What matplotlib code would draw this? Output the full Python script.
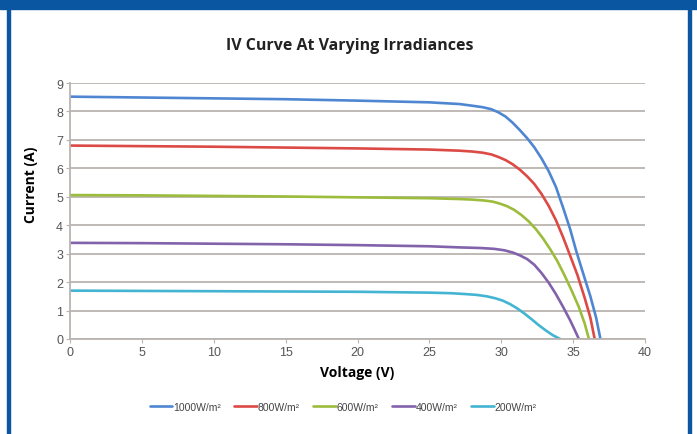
import matplotlib
matplotlib.use("Agg")
import matplotlib.pyplot as plt
from matplotlib.patches import Rectangle

# IV curves
v_1000 = [0, 5, 10, 15, 20, 25, 27.1, 28.0, 28.7, 29.3, 29.8, 30.3, 30.8, 31.3, 31.8, 32.3,
          32.8, 33.3, 33.8, 34.3, 34.8, 35.2, 35.7, 36.2, 36.6, 36.9]
i_1000 = [8.52, 8.49, 8.46, 8.43, 8.38, 8.32, 8.26, 8.20, 8.15, 8.08, 7.97, 7.82, 7.60, 7.34,
          7.06, 6.74, 6.35, 5.90, 5.35, 4.62, 3.85, 3.12, 2.30, 1.50, 0.75, 0.0]

v_800 = [0, 5, 10, 15, 20, 25, 27.1, 28.0, 28.7, 29.3, 29.8, 30.3, 30.8, 31.3, 31.8, 32.3,
         32.8, 33.3, 33.8, 34.3, 34.8, 35.3, 35.8, 36.2, 36.5]
i_800 = [6.80, 6.78, 6.76, 6.73, 6.70, 6.66, 6.62, 6.59, 6.55, 6.49, 6.40, 6.29, 6.14, 5.95,
         5.72, 5.45, 5.10, 4.68, 4.18, 3.58, 2.92, 2.25, 1.45, 0.75, 0.0]

v_600 = [0, 5, 10, 15, 20, 25, 27.1, 28.0, 28.8, 29.4, 29.9, 30.4, 30.9, 31.4, 31.9, 32.4,
         32.9, 33.4, 33.9, 34.4, 34.9, 35.4, 35.8, 36.1]
i_600 = [5.06, 5.05, 5.03, 5.01, 4.98, 4.95, 4.92, 4.90, 4.87, 4.83, 4.76, 4.67, 4.54, 4.36,
         4.14, 3.87, 3.54, 3.16, 2.74, 2.24, 1.70, 1.12, 0.55, 0.0]

v_400 = [0, 5, 10, 15, 20, 25, 27.1, 28.5, 29.5, 30.2, 30.8, 31.3, 31.8, 32.3, 32.8, 33.3,
         33.8, 34.3, 34.8, 35.1, 35.4]
i_400 = [3.38, 3.37, 3.35, 3.33, 3.30, 3.26, 3.22, 3.20, 3.17, 3.12, 3.04, 2.94, 2.81, 2.61,
         2.32, 1.98, 1.58, 1.13, 0.65, 0.33, 0.0]

v_200 = [0, 5, 10, 15, 20, 25, 26.5, 27.5, 28.3, 29.0, 29.6, 30.1, 30.6, 31.1, 31.6, 32.1,
         32.6, 33.1, 33.6, 34.1]
i_200 = [1.70, 1.69, 1.68, 1.67, 1.66, 1.63, 1.61, 1.58, 1.55, 1.50, 1.43, 1.35, 1.23, 1.08,
         0.90, 0.70, 0.49, 0.30, 0.13, 0.0]

series_labels = ["1000W/m²", "800W/m²", "600W/m²", "400W/m²", "200W/m²"]
series_colors = ["#4f86d2", "#dc4a45", "#9cbc3c", "#8262ab", "#43b4d2"]
x_ticks = [0, 5, 10, 15, 20, 25, 30, 35, 40]
y_ticks = [0, 1, 2, 3, 4, 5, 6, 7, 8, 9]

label_font = ["Open Sans", "DejaVu Sans"]
tick_font = ["Liberation Sans", "DejaVu Sans"]

fig = plt.figure(figsize=(6.97, 4.35), dpi=100)
fig.patch.set_facecolor("white")

# blue frame around the panel
frame_blue = "#0b56a0"
fig.patches.append(Rectangle((0, 1 - 10 / 435), 1, 10 / 435, transform=fig.transFigure,
                             color=frame_blue, zorder=0))
fig.patches.append(Rectangle((7 / 697, 0), 3 / 697, 1, transform=fig.transFigure,
                             color=frame_blue, zorder=0))
fig.patches.append(Rectangle((688 / 697, 0), 3 / 697, 1, transform=fig.transFigure,
                             color=frame_blue, zorder=0))

ax = fig.add_axes([70 / 697, 1 - 340 / 435, 575 / 697, 256 / 435])

curves = [(v_1000, i_1000), (v_800, i_800), (v_600, i_600), (v_400, i_400), (v_200, i_200)]
for (v, i), lab, col in zip(curves, series_labels, series_colors):
    ax.plot(v, i, color=col, linewidth=1.9, label=lab, solid_capstyle="round",
            solid_joinstyle="round")

ax.set_xlim(0, 40)
ax.set_ylim(0, 9)
ax.set_xticks(x_ticks)
ax.set_yticks(y_ticks)
ax.grid(axis="y", color="#bab4b0", linewidth=1.3)
ax.set_axisbelow(True)
for side in ["top", "right"]:
    ax.spines[side].set_visible(False)
for side in ["left", "bottom"]:
    ax.spines[side].set_color("#bab4b0")
    ax.spines[side].set_linewidth(1.3)
ax.tick_params(axis="both", length=3, color="#bab4b0", labelsize=9, labelcolor="#555555", pad=2)
for lbl in ax.get_xticklabels() + ax.get_yticklabels():
    lbl.set_family(tick_font)

ax.set_xlabel("Voltage (V)", fontsize=10, fontweight="bold", family=label_font, labelpad=5)
ax.set_ylabel("Current (A)", fontsize=10, fontweight="bold", family=label_font)
ax.yaxis.set_label_coords(-0.055, 0.605)

fig.text(350 / 697, 1 - 46 / 435, "IV Curve At Varying Irradiances", ha="center", va="center",
         fontsize=11.5, fontweight="bold", family=label_font, color="#222222")

fig.legend(loc="center", bbox_to_anchor=(343 / 697, 1 - 408 / 435), ncol=5, frameon=False,
           prop={"family": tick_font, "size": 7.5}, handlelength=2.2, handletextpad=0.05,
           columnspacing=1.3, labelcolor="#444444")

fig.savefig("out.png", dpi=100)
